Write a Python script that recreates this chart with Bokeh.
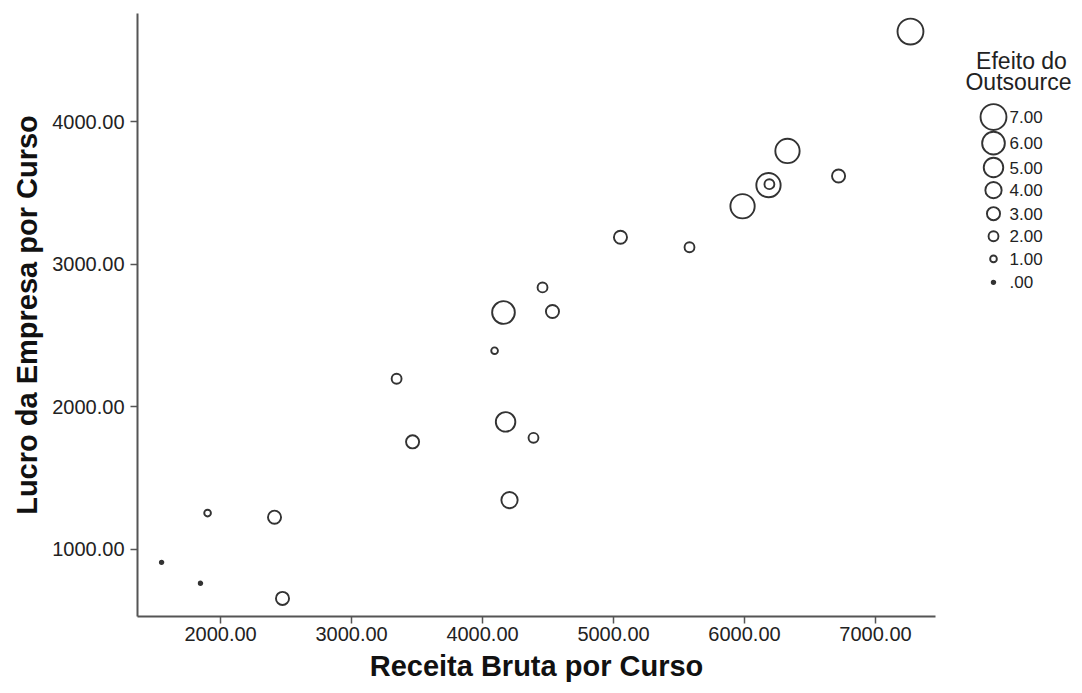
from bokeh.plotting import figure
from bokeh.layouts import row
from bokeh.models import Range1d, FixedTicker, NumeralTickFormatter, ColumnDataSource
from bokeh.embed import file_html
from bokeh.resources import INLINE
from bokeh.core.properties import value

# Receita bruta, lucro e efeito do outsource por curso
receita = [7267, 6328, 6183, 6190, 5985, 6718, 5580, 5053, 4458, 4160, 4534,
           4092, 3344, 4176, 3466, 4389, 4206, 1901, 2412, 1550, 1847, 2473]
lucro = [4634, 3796, 3556, 3563, 3408, 3620, 3120, 3190, 2838, 2662, 2669,
         2394, 2197, 1894, 1754, 1782, 1345, 1254, 1225, 908, 761, 655]
efeito = [7, 6.5, 6.5, 2, 6.5, 3, 2, 3, 2, 6, 3,
          1, 2, 5, 3, 2, 4, 1, 3, 0, 0, 3]

x_ticks = [2000, 3000, 4000, 5000, 6000, 7000]
y_ticks = [1000, 2000, 3000, 4000]

legend_values = [7, 6, 5, 4, 3, 2, 1, 0]
legend_labels = ["7.00", "6.00", "5.00", "4.00", "3.00", "2.00", "1.00", ".00"]
legend_title = ["Efeito do", "Outsource"]

FONT = "Liberation Sans"
INK = "#222222"
RING = "#333333"


def diameter(v):
    return 3.5 + 3.2 * v


def fill(v):
    # zero-effect courses are drawn as solid dots
    return RING if v == 0 else None


src = ColumnDataSource(dict(x=receita, y=lucro,
                            d=[diameter(v) for v in efeito],
                            f=[fill(v) for v in efeito]))

p = figure(width=960, height=693, output_backend="svg", toolbar_location=None,
           x_range=Range1d(1366, 7458), y_range=Range1d(528, 4761),
           min_border_left=137, min_border_right=25, min_border_top=13,
           min_border_bottom=77)
p.outline_line_color = None
p.grid.visible = False
p.background_fill_color = "white"
p.border_fill_color = "white"

p.scatter("x", "y", size="d", source=src, marker="circle",
          fill_color="f", line_color=RING, line_width=1.9)

for ax in (p.xaxis[0], p.yaxis[0]):
    ax.axis_line_color = "#555555"
    ax.axis_line_width = 2
    ax.major_tick_line_color = "#555555"
    ax.major_tick_line_width = 1.5
    ax.major_tick_out = 7
    ax.major_tick_in = 0
    ax.minor_tick_line_color = None
    ax.formatter = NumeralTickFormatter(format="0.00")
    ax.major_label_text_font = FONT
    ax.major_label_text_font_size = "20px"
    ax.major_label_text_color = INK
    ax.axis_label_text_font = FONT
    ax.axis_label_text_font_style = "bold"
    ax.axis_label_text_font_size = "29px"
    ax.axis_label_text_color = "#111111"

p.xaxis[0].ticker = FixedTicker(ticks=x_ticks)
p.yaxis[0].ticker = FixedTicker(ticks=y_ticks)
p.xaxis[0].axis_label = "Receita Bruta por Curso"
p.yaxis[0].axis_label = "Lucro da Empresa por Curso"
p.xaxis[0].major_label_standoff = 3
p.yaxis[0].major_label_standoff = 6
p.xaxis[0].axis_label_standoff = 6
p.yaxis[0].axis_label_standoff = 6

# Size legend, drawn in its own panel with pixel-like coordinates
leg = figure(width=122, height=693, output_backend="svg", toolbar_location=None,
             x_range=Range1d(0, 122), y_range=Range1d(693, 0),
             min_border=0)
leg.outline_line_color = None
leg.grid.visible = False
leg.axis.visible = False
leg.background_fill_color = "white"
leg.border_fill_color = "white"

row_y = [119, 149, 177, 203, 230, 256, 282, 309]
leg.scatter(x=[33] * len(legend_values), y=row_y,
            size=[diameter(v) for v in legend_values], marker="circle",
            fill_color=[fill(v) for v in legend_values],
            line_color=RING, line_width=1.9)
leg.text(x=[49] * len(legend_labels), y=row_y, text=legend_labels,
         text_font=value(FONT), text_font_size="17px", text_color=INK,
         text_baseline="middle", text_align="left")
leg.text(x=[61, 58], y=[55, 79], text=legend_title,
         text_font=value(FONT), text_font_size="23px", text_color=INK,
         text_baseline="middle", text_align="center")

layout = row(p, leg, spacing=0)

open("out.html", "w").write(file_html(layout, INLINE))
